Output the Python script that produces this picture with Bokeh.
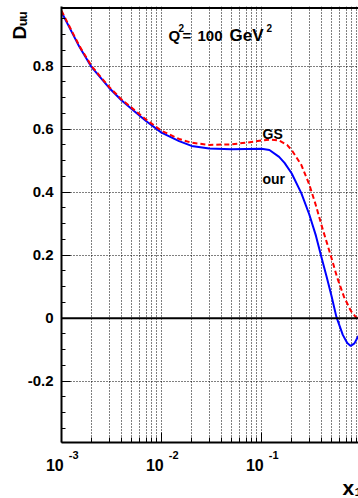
import math
from bokeh.plotting import figure
from bokeh.models import (Label, Span, FixedTicker, Range1d, LogAxis, Title,
                          CustomJSTickFormatter)
from bokeh.embed import file_html
from bokeh.resources import INLINE

# ---- data ----
x_our = [0.001, 0.0015, 0.002, 0.003, 0.004, 0.0055, 0.007, 0.01, 0.015, 0.02,
         0.03, 0.05, 0.07, 0.1, 0.12, 0.15, 0.17, 0.2, 0.25, 0.3,
         0.35, 0.4, 0.45, 0.5, 0.56, 0.65, 0.72, 0.78, 0.85, 0.93]
y_our = [0.972, 0.863, 0.797, 0.731, 0.691, 0.654, 0.626, 0.589, 0.562, 0.547,
         0.539, 0.536, 0.537, 0.538, 0.534, 0.512, 0.493, 0.460, 0.397, 0.330,
         0.262, 0.190, 0.129, 0.072, 0.005, -0.053, -0.079, -0.088, -0.080, -0.056]

x_gs = [0.001, 0.0015, 0.002, 0.003, 0.004, 0.0055, 0.007, 0.01, 0.015, 0.02,
        0.03, 0.05, 0.07, 0.1, 0.12, 0.15, 0.18, 0.2, 0.25, 0.3,
        0.35, 0.4, 0.45, 0.5, 0.57, 0.67, 0.78, 0.88, 0.93]
y_gs = [0.976, 0.866, 0.800, 0.734, 0.694, 0.658, 0.631, 0.595, 0.569, 0.557,
        0.550, 0.552, 0.557, 0.564, 0.567, 0.564, 0.550, 0.534, 0.487, 0.425,
        0.358, 0.293, 0.240, 0.192, 0.130, 0.067, 0.024, 0.003, 0.0]

x_decades = [1e-3, 1e-2, 1e-1]
x_mantissa = ["10", "10", "10"]
x_exponents = ["-3", "-2", "-1"]
y_major = [-0.2, 0.0, 0.2, 0.4, 0.6, 0.8]

# ---- layout (page has no margin: canvas == window) ----
W, H = 358, 498
BL, BR, BT, BB = 61, 0, 6, 56
FRAME_W = W - BL - BR
FRAME_H = H - BT - BB
X0, X1 = 1e-3, 10 ** -0.03
PX_PER_UNIT = 315.0
Y_ZERO_PX = 317.7
Y1 = (Y_ZERO_PX - BT) / PX_PER_UNIT
Y0 = (Y_ZERO_PX - (BT + FRAME_H)) / PX_PER_UNIT


def px2x(px):
    lo, hi = math.log10(X0), math.log10(X1)
    return 10 ** (lo + (px - BL) * (hi - lo) / FRAME_W)


def py2y(py):
    return Y1 - (py - BT) * (Y1 - Y0) / FRAME_H


FONT = "Liberation Sans"
NBSP = "\u00a0"

p = figure(width=W, height=H, x_axis_type="log",
           x_range=Range1d(X0, X1), y_range=Range1d(Y0, Y1),
           output_backend="svg", toolbar_location=None,
           min_border_left=BL, min_border_right=BR,
           min_border_top=BT, min_border_bottom=BB)
p.outline_line_color = None
p.background_fill_color = "white"
p.border_fill_color = "white"

pick_code = """
let k = 0;
for (let i = 0; i < decs.length; i++) {
  if (Math.abs(Math.log10(tick) - Math.log10(decs[i])) < 1e-6) { k = i; }
}
return pre + labels[k] + post;
"""

# main x axis: ticks + exponent part of the labels
minor_x = [m * d for d in x_decades for m in range(2, 10)]
p.xaxis.ticker = FixedTicker(ticks=x_decades, minor_ticks=minor_x)
p.xaxis.formatter = CustomJSTickFormatter(
    args=dict(decs=x_decades, labels=x_exponents, pre=NBSP * 8, post=""), code=pick_code)
p.xaxis.major_label_text_font = FONT
p.xaxis.major_label_text_font_style = "bold"
p.xaxis.major_label_text_font_size = "11px"
p.xaxis.major_label_text_color = "black"
p.xaxis.major_label_standoff = 6
p.xaxis.major_tick_in = 10
p.xaxis.major_tick_out = 0
p.xaxis.minor_tick_in = 5
p.xaxis.minor_tick_out = 0
p.xaxis.axis_line_width = 2
p.xaxis.major_tick_line_color = "black"
p.xaxis.minor_tick_line_color = "black"

# second x axis carrying the "10" mantissas
ax10 = LogAxis(ticker=FixedTicker(ticks=x_decades, minor_ticks=[]),
               formatter=CustomJSTickFormatter(
                   args=dict(decs=x_decades, labels=x_mantissa, pre="", post=NBSP * 3),
                   code=pick_code),
               major_tick_in=0, major_tick_out=0, minor_tick_in=0, minor_tick_out=0,
               axis_line_color=None, major_tick_line_color=None, minor_tick_line_color=None,
               major_label_text_font=FONT, major_label_text_font_style="bold",
               major_label_text_font_size="16px", major_label_text_color="black",
               major_label_standoff=-7)
p.add_layout(ax10, "below")

# x axis title
p.add_layout(Title(text="x\u2081", align="left", offset=281, standoff=-5,
                   text_font=FONT, text_font_style="bold", text_font_size="21px",
                   text_color="black"), "below")

# y axis
minor_y = [round(-0.35 + 0.05 * i, 2) for i in range(27)]
minor_y = [v for v in minor_y if abs(v / 0.2 - round(v / 0.2)) > 1e-6]
p.yaxis.ticker = FixedTicker(ticks=y_major, minor_ticks=minor_y)
p.yaxis.formatter = CustomJSTickFormatter(code="return Math.abs(tick) < 1e-9 ? '0' : tick.toFixed(1);")
p.yaxis.major_label_text_font = FONT
p.yaxis.major_label_text_font_style = "bold"
p.yaxis.major_label_text_font_size = "15px"
p.yaxis.major_label_text_color = "black"
p.yaxis.major_label_standoff = 8
p.yaxis.major_tick_in = 9
p.yaxis.major_tick_out = 0
p.yaxis.minor_tick_in = 4
p.yaxis.minor_tick_out = 0
p.yaxis.axis_line_width = 2

# y axis title (in the left side panel so it is not clipped)
p.add_layout(Label(x=px2x(19), y=py2y(39), text="D\u1d64\u1d64", text_font=FONT,
                   text_font_style="bold", text_font_size="19px", text_color="black",
                   text_align="left", text_baseline="alphabetic", angle=math.pi / 2),
             "left")

# grids
for g in (p.xgrid, p.ygrid):
    g.grid_line_color = "black"
    g.grid_line_dash = "1 2"
    g.grid_line_width = 1
p.xgrid.minor_grid_line_color = "black"
p.xgrid.minor_grid_line_dash = "1 2"
p.xgrid.minor_grid_line_width = 1

# top border and zero line
p.add_layout(Span(location=py2y(7.5), dimension="width", line_color="black", line_width=2))
p.add_layout(Span(location=0, dimension="width", line_color="black", line_width=2))

# curves
p.line(x_our, y_our, line_color="#0000ff", line_width=2)
p.line(x_gs, y_gs, line_color="#ff0000", line_width=2, line_dash="5 3")


def lab(text, px, py, size):
    p.add_layout(Label(x=px2x(px), y=py2y(py), text=text, text_font=FONT,
                       text_font_style="bold", text_font_size=f"{size}px",
                       text_color="black", text_align="left",
                       text_baseline="alphabetic"))


# Q^2 = 100 GeV^2
lab("Q", 168, 35, 15)
lab("2", 178, 27, 10)
lab("=", 182, 35, 15)
lab("100", 197, 35, 15)
lab("GeV", 229, 35, 17)
lab("2", 266, 27, 10)

# curve labels
lab("GS", 262, 133, 14)
lab("our", 262, 178, 14)

open("out.html", "w").write(file_html(p, INLINE))
